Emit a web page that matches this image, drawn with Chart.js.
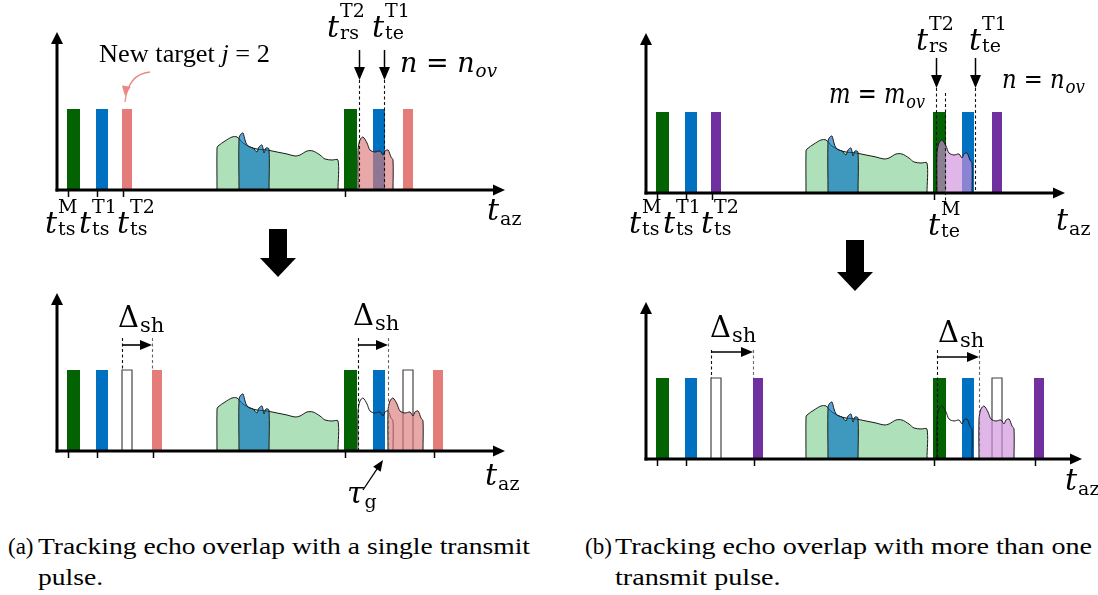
<!DOCTYPE html>
<html><head><meta charset="utf-8">
<script src="https://cdn.jsdelivr.net/npm/chart.js@4/dist/chart.umd.min.js"></script>
<style>
html,body{margin:0;padding:0;background:#fff;}
#wrap{position:relative;width:1098px;height:595px;overflow:hidden;background:#fff;}
canvas{position:absolute;}
.lbl{position:absolute;white-space:nowrap;line-height:1;color:#000;font-family:'DejaVu Serif',serif;font-size:30px;transform-origin:0 0;}
.bm{display:inline-block;width:0;height:0;vertical-align:baseline;}
.mi{font-style:italic;}
.ss{display:inline-flex;flex-direction:column;vertical-align:20px;line-height:22px;font-size:19px;font-style:normal;margin-left:1px;}
.sb{font-size:19px;vertical-align:-5px;margin-left:1px;}
.lbl.cap{font-family:'Liberation Serif','Times New Roman',serif;font-size:23px;}
.lbl.txt{font-family:'Liberation Serif','Times New Roman',serif;}
</style></head><body><div id="wrap"></div>
<script>
// ---------------- data ----------------
const pulseNames   = ['M', 'T1', 'T2'];
const pulseStart1  = [10, 39, 65];      // first transmit group (time units)
const pulseStart2  = [287, 316, 346];   // second transmit group
const pulseWidth   = [13, 12, 10];
const pulseHeight  = [81, 81, 81];

// echo envelopes (time, amplitude)
const echoMX  = [160,160,161,168,175,180,186,193,200,210,220,230,238,243,250,256,263,268,275,281,281];
const echoMH  = [0,  42, 44, 49, 53, 53, 47, 43, 41, 40, 38, 36, 34, 35, 39, 39, 35, 31, 30, 30, 0];
const echoT1X = [182,182,184,186,188,190,193,196,200,202,205,207,209,212,212];
const echoT1H = [0,  52, 56, 57, 50, 45, 43, 42, 38, 43, 45, 37, 42, 41, 0];
// new-target echo shape, relative to its start time
const echoT2dX = [0, 0, 2, 5, 9, 12, 17, 22, 25, 27, 30, 33, 35, 35];
const echoT2H  = [0, 40, 50, 53, 47, 40, 38, 39, 35, 39, 40, 33, 30, 0];

const echoT2StartA = 301;   // (a) echo start of new target
const echoT2StartB = 291;   // (b)
const shiftA = 30;          // Delta_sh in (a)
const shiftB = 42;          // Delta_sh in (b)

// ---------------- styles ----------------
const C = {
  green:'#036303', blue:'#0070c0', pink:'#e47c7a', purple:'#7030a0',
  echoM:'#aee0b9', echoT1:'rgba(0,112,192,0.64)',
  echoPink:'rgba(219,122,121,0.65)', echoPurple:'rgba(208,142,220,0.66)'
};

const layout = {
  aTop:{left:0,  top:0,   w:549, h:282, ox:57,  base:190, xTip:448, yTip:158},
  aBot:{left:0,  top:282, w:549, h:238, ox:57,  base:451, xTip:448, yTip:158},
  bTop:{left:549,top:0,   w:549, h:296, ox:646, base:193, xTip:419, yTip:160},
  bBot:{left:549,top:296, w:549, h:224, ox:646, base:459, xTip:436, yTip:157}
};

function barDS(start, i, color, outline){
  const w = pulseWidth[i], h = pulseHeight[i];
  return {data:[{x:start,y:0},{x:start,y:h},{x:start+w,y:h},{x:start+w,y:0}],
    backgroundColor: outline ? 'rgba(0,0,0,0)' : color,
    borderColor: outline ? '#444' : 'rgba(0,0,0,0)',
    borderWidth: outline ? 1.2 : 1, fill: outline ? false : 'origin',
    tension:0, pointRadius:0};
}
function echoDS(xs, hs, off, fillColor){
  return {data: xs.map((x,i)=>({x:x+off, y:hs[i]})),
    backgroundColor: fillColor || 'rgba(0,0,0,0)', borderColor:'#1a1a1a', borderWidth:1,
    fill: fillColor ? 'origin' : false, tension:0.3, pointRadius:0};
}
function commonEchoes(){ return [echoDS(echoMX, echoMH, 0, C.echoM), echoDS(echoT1X, echoT1H, 0, C.echoT1)]; }

const ds = {
  aTop: [...commonEchoes(),
    barDS(pulseStart1[0],0,C.green), barDS(pulseStart1[1],1,C.blue), barDS(pulseStart1[2],2,C.pink),
    barDS(pulseStart2[0],0,C.green), barDS(pulseStart2[1],1,C.blue), barDS(pulseStart2[2],2,C.pink),
    echoDS(echoT2dX, echoT2H, echoT2StartA, C.echoPink)],
  aBot: [...commonEchoes(),
    barDS(pulseStart1[0],0,C.green), barDS(pulseStart1[1],1,C.blue),
    barDS(pulseStart1[2],2,null,true), barDS(pulseStart1[2]+shiftA,2,C.pink),
    barDS(pulseStart2[0],0,C.green), barDS(pulseStart2[1],1,C.blue),
    barDS(pulseStart2[2],2,null,true), barDS(pulseStart2[2]+shiftA,2,C.pink),
    echoDS(echoT2dX, echoT2H, echoT2StartA, null),
    echoDS(echoT2dX, echoT2H, echoT2StartA+shiftA, C.echoPink)],
  bTop: [...commonEchoes(),
    barDS(pulseStart1[0],0,C.green), barDS(pulseStart1[1],1,C.blue), barDS(pulseStart1[2],2,C.purple),
    barDS(pulseStart2[0],0,C.green), barDS(pulseStart2[1],1,C.blue), barDS(pulseStart2[2],2,C.purple),
    echoDS(echoT2dX, echoT2H, echoT2StartB, C.echoPurple)],
  bBot: [...commonEchoes(),
    barDS(pulseStart1[0],0,C.green), barDS(pulseStart1[1],1,C.blue),
    barDS(pulseStart1[2],2,null,true), barDS(pulseStart1[2]+shiftB,2,C.purple),
    barDS(pulseStart2[0],0,C.green), barDS(pulseStart2[1],1,C.blue),
    barDS(pulseStart2[2],2,null,true), barDS(pulseStart2[2]+shiftB,2,C.purple),
    echoDS(echoT2dX, echoT2H, echoT2StartB, null),
    echoDS(echoT2dX, echoT2H, echoT2StartB+shiftB, C.echoPurple)]
};

const tEndT1 = pulseStart2[1] + pulseWidth[1];
const tEndM  = pulseStart2[0] + pulseWidth[0];
const deco = {
  aTop:{ticks:[pulseStart1[0]+1,pulseStart1[1]+1,pulseStart1[2]+1,pulseStart2[0]+1],
    dashed:[{x:echoT2StartA+1,y0:110,y1:0},{x:tEndT1-1,y0:110,y1:0}],
    down:[{x:echoT2StartA+1,y0:140,y1:110},{x:tEndT1-1,y0:140,y1:110}],
    big:{x:221,y0:-39,y1:-87},
    curve:{x0:93,y0:118,cx:71,cy:116,x1:68,y1:94,color:'#ea8884'}},
  aBot:{ticks:[pulseStart1[0]+1,pulseStart1[1]+1,pulseStart1[2]+shiftA+1,pulseStart2[0]+1,pulseStart2[2]+shiftA+1],
    dashed:[{x:pulseStart1[2],y0:113,y1:81},{x:pulseStart1[2]+shiftA,y0:113,y1:81,gray:true},
            {x:echoT2StartA,y0:113,y1:0},{x:echoT2StartA+shiftA,y0:113,y1:0,gray:true}],
    harr:[{x0:pulseStart1[2],x1:pulseStart1[2]+shiftA,y:106},{x0:echoT2StartA,x1:echoT2StartA+shiftA,y:106}],
    line:{x0:306,y0:-39,x1:326,y1:-9}},
  bTop:{ticks:[pulseStart1[0]+1,pulseStart1[1]+1,pulseStart1[2]+1,pulseStart2[0]+1],
    dashed:[{x:echoT2StartB-1,y0:105,y1:0},{x:tEndM-1,y0:100,y1:-12},{x:tEndT1+1,y0:105,y1:0}],
    down:[{x:echoT2StartB-1,y0:135,y1:105},{x:tEndT1+1,y0:135,y1:105}],
    big:{x:209,y0:-47,y1:-98}},
  bBot:{ticks:[pulseStart1[0]+1,pulseStart1[1]+1,pulseStart1[2]+shiftB+1,pulseStart2[0]+1,pulseStart2[2]+shiftB+1],
    dashed:[{x:pulseStart1[2],y0:109,y1:81},{x:pulseStart1[2]+shiftB,y0:109,y1:81,gray:true},
            {x:echoT2StartB,y0:109,y1:0},{x:echoT2StartB+shiftB,y0:109,y1:0,gray:true}],
    harr:[{x0:pulseStart1[2],x1:pulseStart1[2]+shiftB,y:107},{x0:echoT2StartB,x1:echoT2StartB+shiftB,y:102}]}
};

function tri(ctx, pts){ ctx.beginPath(); ctx.moveTo(pts[0][0],pts[0][1]); for(let i=1;i<pts.length;i++) ctx.lineTo(pts[i][0],pts[i][1]); ctx.closePath(); ctx.fill(); }
function headAt(ctx, x, y, ang, len, wid){
  const ca=Math.cos(ang), sa=Math.sin(ang);
  const bx=x-ca*len, by=y-sa*len;
  tri(ctx, [[x,y],[bx - sa*wid/2, by + ca*wid/2],[bx + sa*wid/2, by - ca*wid/2]]);
}

function makeDecor(L, D){
  return {id:'decor', afterDatasetsDraw(chart){
    const ctx = chart.ctx, X = v=>chart.scales.x.getPixelForValue(v), Y = v=>chart.scales.y.getPixelForValue(v);
    ctx.save();
    ctx.fillStyle='#000'; ctx.strokeStyle='#000';
    ctx.lineWidth=1.1; ctx.setLineDash([3,2.5]);
    (D.dashed||[]).forEach(d=>{ ctx.strokeStyle = d.gray ? '#666' : '#111';
      ctx.beginPath(); ctx.moveTo(Math.round(X(d.x))+0.5, Y(d.y0)); ctx.lineTo(Math.round(X(d.x))+0.5, Y(d.y1)); ctx.stroke(); });
    ctx.setLineDash([]); ctx.strokeStyle='#000';
    const x0=X(0), y0=Y(0);
    ctx.lineWidth=3;
    ctx.beginPath(); ctx.moveTo(x0, y0+1.5); ctx.lineTo(x0, Y(L.yTip)+10); ctx.stroke();
    tri(ctx, [[x0-6, Y(L.yTip)+12],[x0+6, Y(L.yTip)+12],[x0, Y(L.yTip)]]);
    ctx.beginPath(); ctx.moveTo(x0-1.5, y0); ctx.lineTo(X(L.xTip)-10, y0); ctx.stroke();
    tri(ctx, [[X(L.xTip)-12, y0-5.5],[X(L.xTip)-12, y0+5.5],[X(L.xTip), y0]]);
    ctx.lineWidth=1.5;
    (D.ticks||[]).forEach(t=>{ ctx.beginPath(); ctx.moveTo(Math.round(X(t))+0.5, y0); ctx.lineTo(Math.round(X(t))+0.5, y0+7); ctx.stroke(); });
    (D.down||[]).forEach(a=>{ const x=Math.round(X(a.x))+0.5;
      ctx.lineWidth=1.5; ctx.beginPath(); ctx.moveTo(x, Y(a.y0)); ctx.lineTo(x, Y(a.y1)-10); ctx.stroke();
      tri(ctx, [[x-5.5, Y(a.y1)-13],[x+5.5, Y(a.y1)-13],[x, Y(a.y1)]]); });
    (D.harr||[]).forEach(a=>{ const y=Y(a.y);
      ctx.lineWidth=1.6; ctx.beginPath(); ctx.moveTo(X(a.x0), y); ctx.lineTo(X(a.x1)-9, y); ctx.stroke();
      tri(ctx, [[X(a.x1)-12, y-5],[X(a.x1)-12, y+5],[X(a.x1), y]]); });
    if(D.big){ const b=D.big, cx=X(b.x);
      ctx.fillRect(cx-9, Y(b.y0), 18, (Y(b.y1)-19)-Y(b.y0));
      tri(ctx, [[cx-18, Y(b.y1)-19],[cx+18, Y(b.y1)-19],[cx, Y(b.y1)]]); }
    if(D.curve){ const c=D.curve; ctx.strokeStyle=c.color; ctx.fillStyle=c.color; ctx.lineWidth=1.3;
      ctx.beginPath(); ctx.moveTo(X(c.x0),Y(c.y0)); ctx.quadraticCurveTo(X(c.cx),Y(c.cy),X(c.x1),Y(c.y1)+6); ctx.stroke();
      headAt(ctx, X(c.x1), Y(c.y1), Math.atan2(Y(c.y1)-Y(c.cy), X(c.x1)-X(c.cx)), 10, 9); }
    if(D.line){ const l=D.line; ctx.strokeStyle='#000'; ctx.fillStyle='#000'; ctx.lineWidth=1.3;
      const ang=Math.atan2(Y(l.y1)-Y(l.y0), X(l.x1)-X(l.x0));
      ctx.beginPath(); ctx.moveTo(X(l.x0),Y(l.y0)); ctx.lineTo(X(l.x1)-Math.cos(ang)*8, Y(l.y1)-Math.sin(ang)*8); ctx.stroke();
      headAt(ctx, X(l.x1), Y(l.y1), ang, 11, 9); }
    ctx.restore();
  }};
}

const wrap = document.getElementById('wrap');
const charts = {};
Object.keys(layout).forEach(k=>{
  const L = layout[k];
  const c = document.createElement('canvas');
  c.width=L.w; c.height=L.h; c.style.left=L.left+'px'; c.style.top=L.top+'px';
  c.style.width=L.w+'px'; c.style.height=L.h+'px';
  wrap.appendChild(c);
  const list = ds[k];
  list.forEach((d,i)=>{ d.order = list.length - i; });
  charts[k] = new Chart(c, {type:'line', data:{datasets:list},
    options:{responsive:false, maintainAspectRatio:false, animation:false, devicePixelRatio:1, events:[],
      layout:{padding:0}, plugins:{legend:{display:false}, tooltip:{enabled:false}},
      scales:{x:{type:'linear', display:false, min:L.left-L.ox, max:L.left+L.w-L.ox},
              y:{type:'linear', display:false, min:L.base-(L.top+L.h), max:L.base-L.top}}},
    plugins:[makeDecor(L, deco[k])]});
});

// ---------------- text ----------------
const tts = s => `<span class="mi">t</span><span class="ss"><span>${s}</span><span>ts</span></span>`;
const tsup = (s,b) => `<span class="mi">t</span><span class="ss"><span>${s}</span><span>${b}</span></span>`;
const taz = `<span class="mi">t</span><span class="sb">az</span>`;
const dsh = `<span style="font-size:29px">&Delta;</span><span class="sb" style="font-size:21px;vertical-align:-5px">sh</span>`;
const nov = v => `<span class="mi">${v}</span> = <span class="mi">${v}</span><span class="sb mi">ov</span>`;

const labels = [
  ['aTop',-12,-43,tts(pulseNames[0])],['aTop',22,-43,tts(pulseNames[1])],['aTop',60,-43,tts(pulseNames[2])],
  ['aTop',430,-30,taz],['aTop',270,153,tsup('T2','rs')],['aTop',315,153,tsup('T1','te')],
  ['aTop',343,118,nov('n'),{size:28,fitW:97}],
  ['aTop',42,128,'New target <span class="mi">j</span> = 2',{cls:'txt',size:25,fitW:171}],
  ['aBot',61,124,dsh],['aBot',296,126,dsh],['aBot',428,-34,taz],
  ['aBot',290,-52,`<span class="mi">&tau;</span><span class="sb">g</span>`],
  ['bTop',-17,-40,tts(pulseNames[0])],['bTop',17,-40,tts(pulseNames[1])],['bTop',55,-40,tts(pulseNames[2])],
  ['bTop',282,-42,tsup('M','te')],['bTop',410,-37,taz],
  ['bTop',270,143,tsup('T2','rs')],['bTop',323,143,tsup('T1','te')],
  ['bTop',356,105,nov('n'),{size:26,fitW:83}],['bTop',183,90,nov('m'),{size:27,fitW:96}],
  ['bBot',64,122,dsh],['bBot',292,117,dsh],['bBot',419,-31,taz]
];
const captions = [
  [8,554,'(a)'],[38,554,'Tracking echo overlap with a single transmit',492,'A'],[38,585,'pulse.',0,'A'],
  [585,554,'(b)'],[615,554,'Tracking echo overlap with more than one',477,'B'],[615,585,'transmit pulse.',0,'B']
];

function place(px, py, html, opts){
  opts = opts||{};
  const el=document.createElement('div'); el.className='lbl'+(opts.cls?' '+opts.cls:'');
  el.innerHTML='<span class="bm"></span>'+html;
  if(opts.size) el.style.fontSize=opts.size+'px';
  el.style.left='0px'; el.style.top='0px';
  wrap.appendChild(el);
  const r=el.getBoundingClientRect(), br=el.querySelector('.bm').getBoundingClientRect();
  const bl = br.top - r.top;
  let sc = opts.scale || 1;
  if(opts.fitW){ sc = opts.fitW / r.width; }
  if(sc!==1) el.style.transform=`scaleX(${sc})`;
  el.style.left=px+'px'; el.style.top=(py-bl)+'px';
  return sc;
}
function layoutText(){
  labels.forEach(([k,x,y,html,o])=>{
    const L=layout[k], ch=charts[k];
    place(L.left+ch.scales.x.getPixelForValue(x), L.top+ch.scales.y.getPixelForValue(y), html, o);
  });
  const scales={};
  captions.forEach(([x,y,txt,fw,grp])=>{
    const o={cls:'cap'};
    if(fw) o.fitW=fw; else if(grp) o.scale=scales[grp];
    const s=place(x,y,txt,o); if(fw) scales[grp]=s;
  });
}
if(document.fonts && document.fonts.ready) document.fonts.ready.then(layoutText); else layoutText();
</script></body></html>
